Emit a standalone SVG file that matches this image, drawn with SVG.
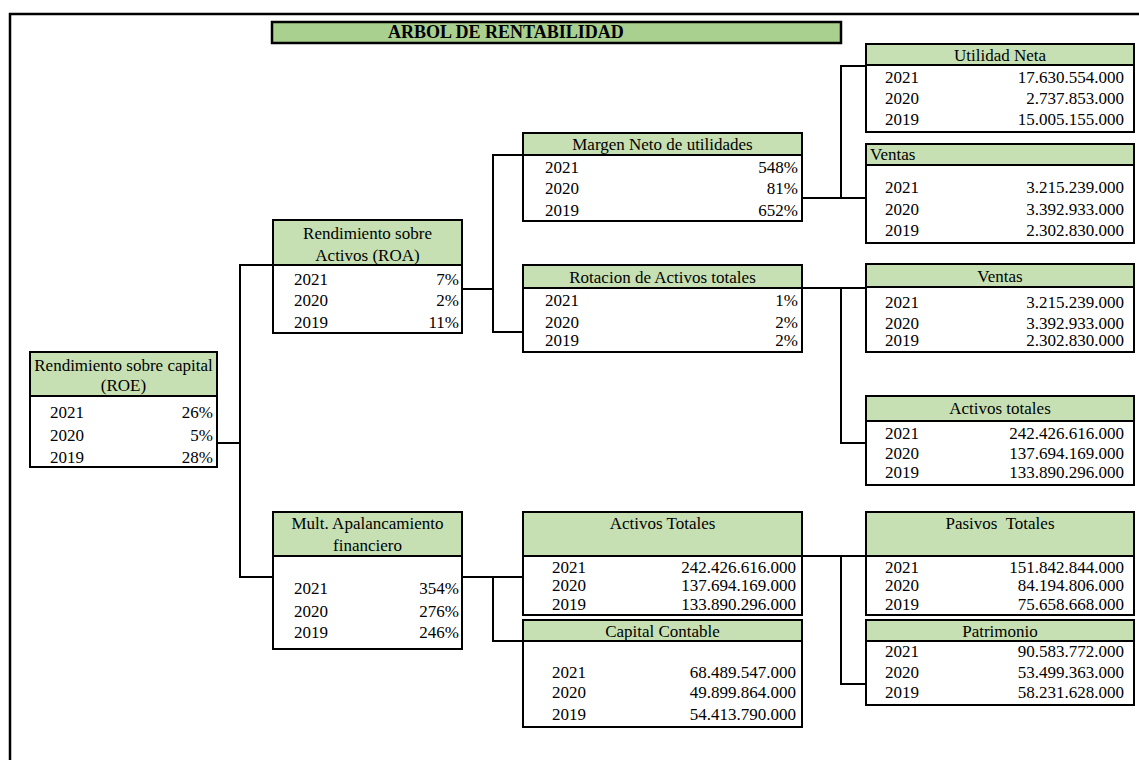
<svg xmlns="http://www.w3.org/2000/svg" width="1139" height="760" viewBox="0 0 1139 760">
<style>
.hdr{fill:#c6e0b4;stroke:#000;stroke-width:2}
.body{fill:#fff;stroke:#000;stroke-width:2}
.ttl{fill:#a9d08e;stroke:#000;stroke-width:2.5}
.t{font-family:"Liberation Serif","Times New Roman",serif;font-size:17px;fill:#000}
.b{font-weight:bold;font-size:18px}
.c{text-anchor:middle}
.r{text-anchor:end}
.conn path{fill:none;stroke:#000;stroke-width:2}
.frame{fill:none;stroke:#000;stroke-width:2.5}
</style>
<rect width="1139" height="760" fill="#fff"/>
<path class="frame" d="M10 760 V14 H1139"/>
<g id="title">
<rect class="ttl" x="272" y="22" width="569" height="21"/>
<text class="t b" x="388" y="38">ARBOL DE RENTABILIDAD</text>
</g>
<g class="conn" id="connectors">
<path d="M217 443 H240"/>
<path d="M273 265 H240 V577 H273"/>
<path d="M462 289 H493"/>
<path d="M523 155 H493 V332 H523"/>
<path d="M462 577 H523"/>
<path d="M493 577 V641 H523"/>
<path d="M802 198 H866"/>
<path d="M866 66 H841 V198"/>
<path d="M802 288 H866"/>
<path d="M841 288 V443 H866"/>
<path d="M802 556 H866"/>
<path d="M841 556 V684 H866"/>
</g>
<g id="roe">
<rect class="hdr" x="30" y="352" width="187" height="44"/>
<rect class="body" x="30" y="396" width="187" height="71"/>
<text class="t c" x="123.5" y="371">Rendimiento sobre capital</text>
<text class="t c" x="123.5" y="391">(ROE)</text>
<text class="t" x="50" y="418">2021</text><text class="t r" x="213" y="418">26%</text>
<text class="t" x="50" y="441">2020</text><text class="t r" x="213" y="441">5%</text>
<text class="t" x="50" y="463">2019</text><text class="t r" x="213" y="463">28%</text>
</g>
<g id="roa">
<rect class="hdr" x="273" y="220" width="189" height="45"/>
<rect class="body" x="273" y="265" width="189" height="68"/>
<text class="t c" x="367.5" y="239">Rendimiento sobre</text>
<text class="t c" x="367.5" y="261">Activos (ROA)</text>
<text class="t" x="294" y="285">2021</text><text class="t r" x="459" y="285">7%</text>
<text class="t" x="294" y="306">2020</text><text class="t r" x="459" y="306">2%</text>
<text class="t" x="294" y="328">2019</text><text class="t r" x="459" y="328">11%</text>
</g>
<g id="mult">
<rect class="hdr" x="273" y="512" width="189" height="44"/>
<rect class="body" x="273" y="556" width="189" height="93"/>
<text class="t c" x="367.5" y="529">Mult. Apalancamiento</text>
<text class="t c" x="367.5" y="551">financiero</text>
<text class="t" x="294" y="594">2021</text><text class="t r" x="459" y="594">354%</text>
<text class="t" x="294" y="617">2020</text><text class="t r" x="459" y="617">276%</text>
<text class="t" x="294" y="638">2019</text><text class="t r" x="459" y="638">246%</text>
</g>
<g id="margen">
<rect class="hdr" x="523" y="133" width="279" height="22"/>
<rect class="body" x="523" y="155" width="279" height="66"/>
<text class="t c" x="662.5" y="150">Margen Neto de utilidades</text>
<text class="t" x="545" y="173">2021</text><text class="t r" x="798" y="173">548%</text>
<text class="t" x="545" y="194">2020</text><text class="t r" x="798" y="194">81%</text>
<text class="t" x="545" y="216">2019</text><text class="t r" x="798" y="216">652%</text>
</g>
<g id="rotacion">
<rect class="hdr" x="523" y="265" width="279" height="23"/>
<rect class="body" x="523" y="288" width="279" height="64"/>
<text class="t c" x="662.5" y="283">Rotacion de Activos totales</text>
<text class="t" x="545" y="306">2021</text><text class="t r" x="798" y="306">1%</text>
<text class="t" x="545" y="328">2020</text><text class="t r" x="798" y="328">2%</text>
<text class="t" x="545" y="346">2019</text><text class="t r" x="798" y="346">2%</text>
</g>
<g id="activos-totales-b">
<rect class="hdr" x="523" y="512" width="279" height="44"/>
<rect class="body" x="523" y="556" width="279" height="59"/>
<text class="t c" x="662.5" y="529">Activos Totales</text>
<text class="t" x="552" y="573">2021</text><text class="t r" x="796" y="573">242.426.616.000</text>
<text class="t" x="552" y="591">2020</text><text class="t r" x="796" y="591">137.694.169.000</text>
<text class="t" x="552" y="610">2019</text><text class="t r" x="796" y="610">133.890.296.000</text>
</g>
<g id="capital">
<rect class="hdr" x="523" y="620" width="279" height="21"/>
<rect class="body" x="523" y="641" width="279" height="86"/>
<text class="t c" x="662.5" y="637">Capital Contable</text>
<text class="t" x="552" y="678">2021</text><text class="t r" x="796" y="678">68.489.547.000</text>
<text class="t" x="552" y="698">2020</text><text class="t r" x="796" y="698">49.899.864.000</text>
<text class="t" x="552" y="720">2019</text><text class="t r" x="796" y="720">54.413.790.000</text>
</g>
<g id="utilidad">
<rect class="hdr" x="866" y="44" width="268" height="21"/>
<rect class="body" x="866" y="65" width="268" height="67"/>
<text class="t c" x="1000" y="61">Utilidad Neta</text>
<text class="t" x="885" y="83">2021</text><text class="t r" x="1124" y="83">17.630.554.000</text>
<text class="t" x="885" y="104">2020</text><text class="t r" x="1124" y="104">2.737.853.000</text>
<text class="t" x="885" y="125">2019</text><text class="t r" x="1124" y="125">15.005.155.000</text>
</g>
<g id="ventas1">
<rect class="hdr" x="866" y="144" width="268" height="21"/>
<rect class="body" x="866" y="165" width="268" height="78"/>
<text class="t" x="870" y="160">Ventas</text>
<text class="t" x="885" y="193">2021</text><text class="t r" x="1124" y="193">3.215.239.000</text>
<text class="t" x="885" y="215">2020</text><text class="t r" x="1124" y="215">3.392.933.000</text>
<text class="t" x="885" y="236">2019</text><text class="t r" x="1124" y="236">2.302.830.000</text>
</g>
<g id="ventas2">
<rect class="hdr" x="866" y="264" width="268" height="23"/>
<rect class="body" x="866" y="287" width="268" height="65"/>
<text class="t c" x="1000" y="282">Ventas</text>
<text class="t" x="885" y="308">2021</text><text class="t r" x="1124" y="308">3.215.239.000</text>
<text class="t" x="885" y="329">2020</text><text class="t r" x="1124" y="329">3.392.933.000</text>
<text class="t" x="885" y="346">2019</text><text class="t r" x="1124" y="346">2.302.830.000</text>
</g>
<g id="activos-totales-r">
<rect class="hdr" x="866" y="396" width="268" height="25"/>
<rect class="body" x="866" y="421" width="268" height="64"/>
<text class="t c" x="1000" y="414">Activos totales</text>
<text class="t" x="885" y="439">2021</text><text class="t r" x="1124" y="439">242.426.616.000</text>
<text class="t" x="885" y="459">2020</text><text class="t r" x="1124" y="459">137.694.169.000</text>
<text class="t" x="885" y="478">2019</text><text class="t r" x="1124" y="478">133.890.296.000</text>
</g>
<g id="pasivos">
<rect class="hdr" x="866" y="512" width="268" height="44"/>
<rect class="body" x="866" y="556" width="268" height="59"/>
<text class="t c" x="1000" y="529" xml:space="preserve">Pasivos  Totales</text>
<text class="t" x="885" y="573">2021</text><text class="t r" x="1124" y="573">151.842.844.000</text>
<text class="t" x="885" y="591">2020</text><text class="t r" x="1124" y="591">84.194.806.000</text>
<text class="t" x="885" y="610">2019</text><text class="t r" x="1124" y="610">75.658.668.000</text>
</g>
<g id="patrimonio">
<rect class="hdr" x="866" y="620" width="268" height="21"/>
<rect class="body" x="866" y="641" width="268" height="64"/>
<text class="t c" x="1000" y="637">Patrimonio</text>
<text class="t" x="885" y="657">2021</text><text class="t r" x="1124" y="657">90.583.772.000</text>
<text class="t" x="885" y="678">2020</text><text class="t r" x="1124" y="678">53.499.363.000</text>
<text class="t" x="885" y="698">2019</text><text class="t r" x="1124" y="698">58.231.628.000</text>
</g>
</svg>
